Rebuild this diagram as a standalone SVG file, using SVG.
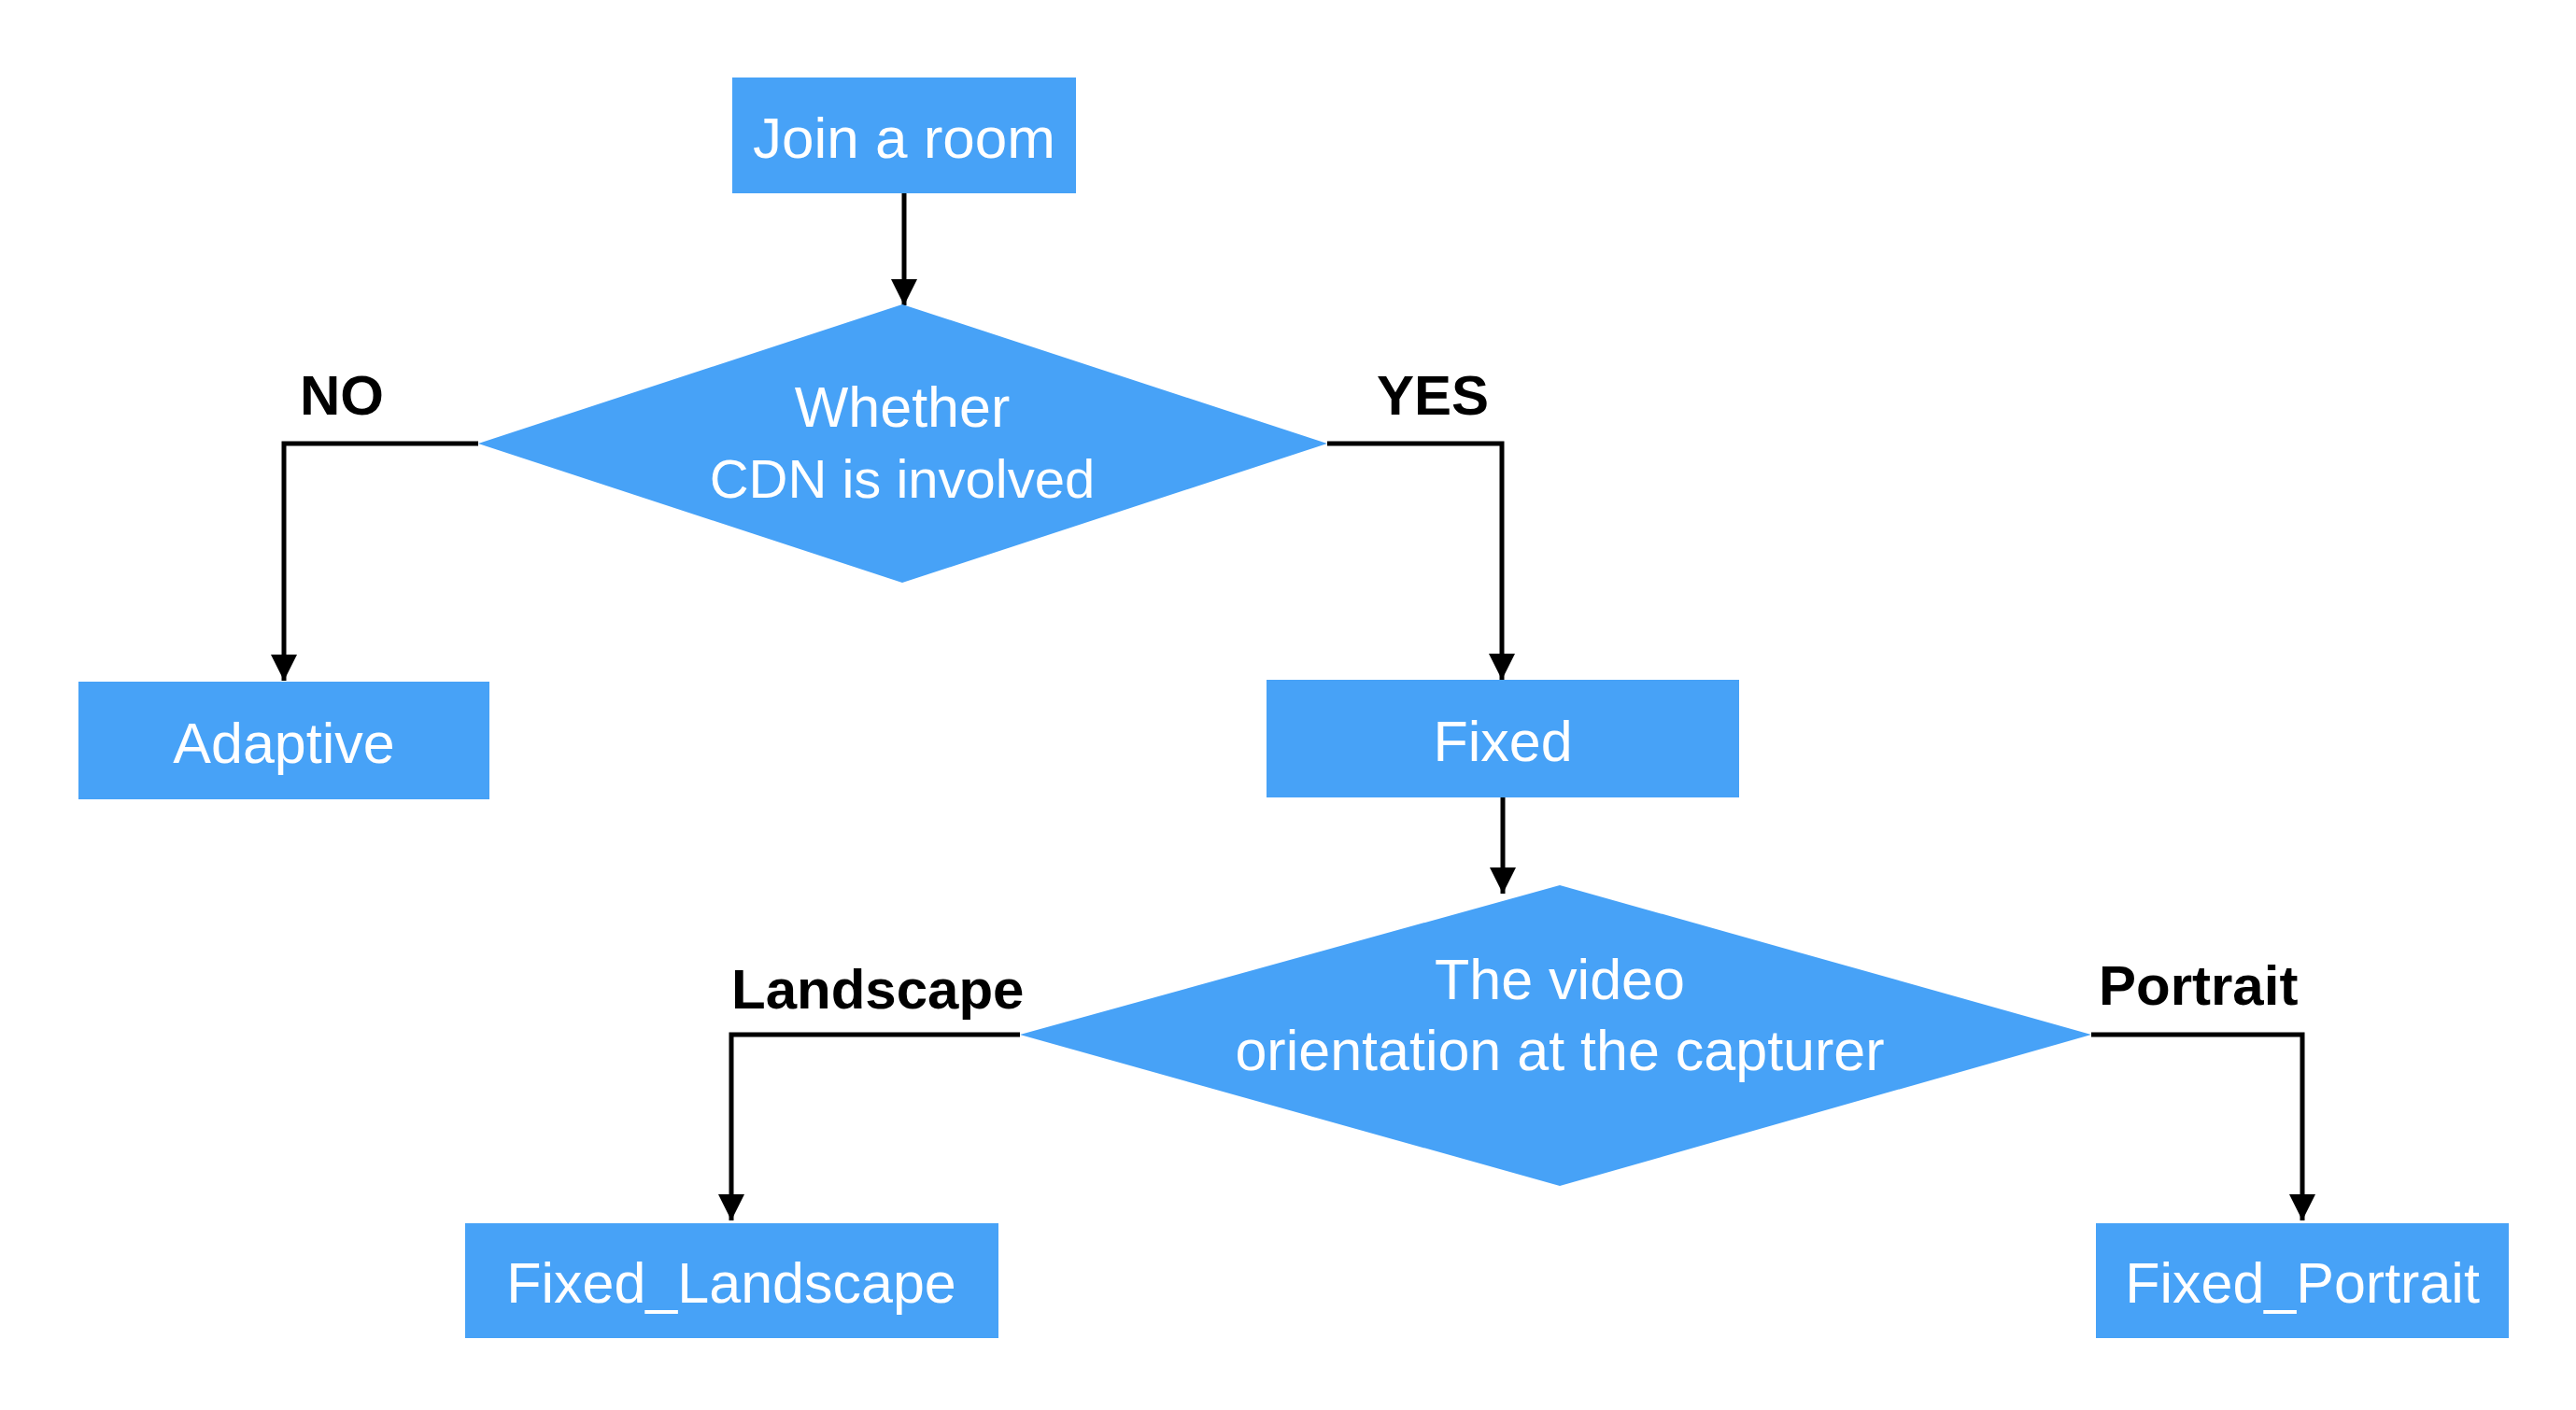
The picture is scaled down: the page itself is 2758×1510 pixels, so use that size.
<svg xmlns="http://www.w3.org/2000/svg" width="2758" height="1510" viewBox="0 0 2758 1510">
<style>
.box{fill:#47A2F7}
.nt{font-family:"Liberation Sans",Arial,sans-serif;font-size:61px;fill:#ffffff;text-anchor:middle}
.lbl{font-family:"Liberation Sans",Arial,sans-serif;font-size:60px;font-weight:bold;fill:#000000}
.conn{fill:none;stroke:#000000;stroke-width:5;stroke-linejoin:miter}
</style>
<defs>
<marker id="arr" viewBox="0 0 28 28" refX="28" refY="14" markerWidth="28" markerHeight="28" markerUnits="userSpaceOnUse" orient="auto">
<path d="M0,0 L28,14 L0,28 z" fill="#000000"/>
</marker>
</defs>
<rect width="2758" height="1510" fill="#ffffff"/>
<g id="connectors">
<path class="conn" d="M968,205 L968,327" marker-end="url(#arr)"/>
<path class="conn" d="M512,475 L304,475 L304,729" marker-end="url(#arr)"/>
<path class="conn" d="M1421,475 L1608,475 L1608,728" marker-end="url(#arr)"/>
<path class="conn" d="M1609,854 L1609,957" marker-end="url(#arr)"/>
<path class="conn" d="M1092,1108 L783,1108 L783,1307" marker-end="url(#arr)"/>
<path class="conn" d="M2239,1108 L2465,1108 L2465,1307" marker-end="url(#arr)"/>
<text class="lbl" x="321" y="444">NO</text>
<text class="lbl" x="1474" y="444">YES</text>
<text class="lbl" x="783" y="1080">Landscape</text>
<text class="lbl" x="2247" y="1076">Portrait</text>
</g>
<g id="join">
<rect class="box" x="784" y="83" width="368" height="124"/>
<text class="nt" x="968" y="169" style="font-size:62px">Join a room</text>
</g>
<g id="cdn">
<polygon class="box" points="966,326 1421,475 966,624 512,475"/>
<text class="nt" x="966" y="457">Whether</text>
<text class="nt" x="966" y="533" style="font-size:58px">CDN is involved</text>
</g>
<g id="adaptive">
<rect class="box" x="84" y="730" width="440" height="126"/>
<text class="nt" x="304" y="817">Adaptive</text>
</g>
<g id="fixed">
<rect class="box" x="1356" y="728" width="506" height="126"/>
<text class="nt" x="1609" y="815">Fixed</text>
</g>
<g id="orientation">
<polygon class="box" points="1670,948 2239,1108 1670,1270 1092,1108"/>
<text class="nt" x="1670" y="1070">The video</text>
<text class="nt" x="1670" y="1146">orientation at the capturer</text>
</g>
<g id="fixed_landscape">
<rect class="box" x="498" y="1310" width="571" height="123"/>
<text class="nt" x="783" y="1395">Fixed_Landscape</text>
</g>
<g id="fixed_portrait">
<rect class="box" x="2244" y="1310" width="442" height="123"/>
<text class="nt" x="2465" y="1395">Fixed_Portrait</text>
</g>
</svg>
